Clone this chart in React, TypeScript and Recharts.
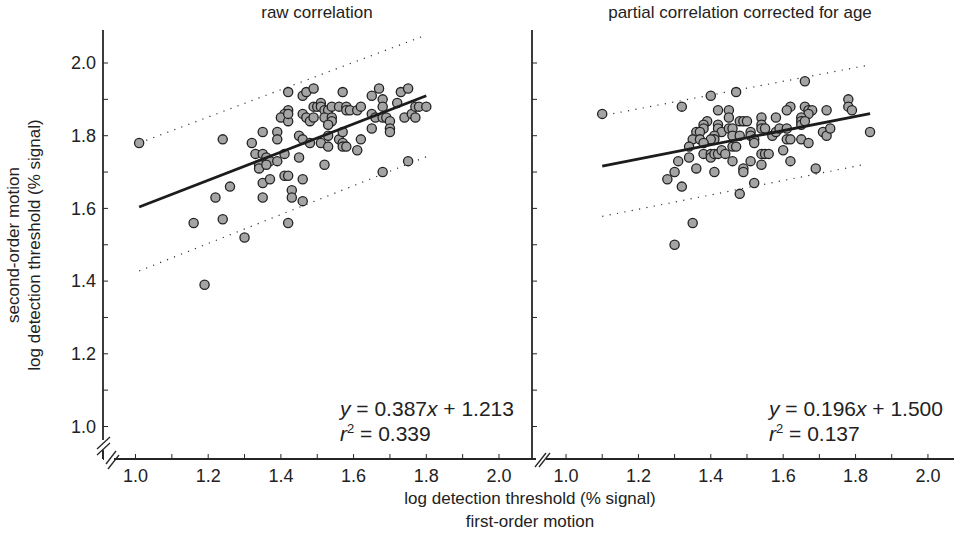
import React from 'react';
import { ScatterChart, Scatter, XAxis, YAxis } from 'recharts';

// values, [first-order, second-order]
const rawPoints: [number, number][] = [
  [1.01, 1.78], [1.24, 1.79], [1.32, 1.78], [1.35, 1.81], [1.39, 1.81], [1.39, 1.79],
  [1.33, 1.75], [1.35, 1.75], [1.36, 1.74], [1.37, 1.73], [1.34, 1.72], [1.34, 1.71],
  [1.36, 1.72], [1.39, 1.73], [1.41, 1.75], [1.45, 1.74], [1.42, 1.92], [1.46, 1.91],
  [1.47, 1.92], [1.49, 1.93], [1.57, 1.92], [1.42, 1.87], [1.41, 1.86], [1.40, 1.85],
  [1.42, 1.84], [1.42, 1.86], [1.46, 1.86], [1.47, 1.85], [1.48, 1.84], [1.49, 1.85],
  [1.49, 1.88], [1.50, 1.88], [1.51, 1.89], [1.51, 1.88], [1.52, 1.87], [1.53, 1.87],
  [1.52, 1.85], [1.54, 1.88], [1.54, 1.85], [1.54, 1.84], [1.53, 1.83], [1.56, 1.88],
  [1.58, 1.88], [1.58, 1.87], [1.59, 1.87], [1.61, 1.87], [1.62, 1.88], [1.45, 1.80],
  [1.46, 1.79], [1.48, 1.78], [1.51, 1.78], [1.53, 1.77], [1.53, 1.80], [1.56, 1.79],
  [1.57, 1.78], [1.57, 1.77], [1.58, 1.77], [1.57, 1.81], [1.62, 1.79], [1.61, 1.76],
  [1.52, 1.72], [1.35, 1.67], [1.37, 1.68], [1.26, 1.66], [1.41, 1.69], [1.42, 1.69],
  [1.46, 1.68], [1.43, 1.65], [1.43, 1.63], [1.35, 1.63], [1.46, 1.62], [1.24, 1.57],
  [1.42, 1.56], [1.67, 1.93], [1.65, 1.91], [1.73, 1.92], [1.75, 1.93], [1.68, 1.90],
  [1.68, 1.88], [1.72, 1.89], [1.65, 1.86], [1.66, 1.85], [1.68, 1.85], [1.69, 1.85],
  [1.70, 1.84], [1.70, 1.82], [1.70, 1.81], [1.65, 1.82], [1.74, 1.85], [1.76, 1.86],
  [1.77, 1.85], [1.77, 1.88], [1.78, 1.88], [1.80, 1.88], [1.68, 1.70], [1.75, 1.73],
  [1.22, 1.63], [1.16, 1.56], [1.19, 1.39], [1.30, 1.52],
];

const partialPoints: [number, number][] = [
  [1.10, 1.86], [1.32, 1.88], [1.40, 1.91], [1.47, 1.92], [1.42, 1.87], [1.45, 1.87],
  [1.45, 1.85], [1.39, 1.84], [1.38, 1.83], [1.38, 1.82], [1.36, 1.81], [1.37, 1.81],
  [1.35, 1.79], [1.37, 1.79], [1.34, 1.77], [1.34, 1.74], [1.42, 1.83], [1.42, 1.82],
  [1.43, 1.81], [1.41, 1.80], [1.41, 1.79], [1.40, 1.79], [1.38, 1.78], [1.45, 1.82],
  [1.46, 1.82], [1.46, 1.80], [1.48, 1.84], [1.49, 1.84], [1.50, 1.84], [1.48, 1.80],
  [1.51, 1.81], [1.46, 1.77], [1.47, 1.77], [1.38, 1.75], [1.40, 1.75], [1.40, 1.74],
  [1.41, 1.75], [1.42, 1.75], [1.43, 1.76], [1.44, 1.75], [1.46, 1.73], [1.36, 1.71],
  [1.41, 1.70], [1.49, 1.71], [1.49, 1.70], [1.51, 1.73], [1.31, 1.73], [1.30, 1.70],
  [1.28, 1.68], [1.32, 1.66], [1.48, 1.64], [1.35, 1.56], [1.30, 1.50], [1.66, 1.95],
  [1.78, 1.90], [1.78, 1.88], [1.79, 1.87], [1.62, 1.88], [1.61, 1.87], [1.66, 1.88],
  [1.67, 1.87], [1.68, 1.87], [1.67, 1.86], [1.72, 1.87], [1.58, 1.85], [1.65, 1.85],
  [1.65, 1.84], [1.65, 1.83], [1.66, 1.84], [1.54, 1.85], [1.54, 1.83], [1.54, 1.82],
  [1.55, 1.82], [1.51, 1.80], [1.52, 1.79], [1.52, 1.78], [1.57, 1.80], [1.58, 1.81],
  [1.59, 1.82], [1.61, 1.82], [1.61, 1.79], [1.62, 1.79], [1.65, 1.79], [1.67, 1.78],
  [1.71, 1.81], [1.72, 1.80], [1.73, 1.82], [1.84, 1.81], [1.60, 1.76], [1.54, 1.75],
  [1.55, 1.75], [1.56, 1.75], [1.54, 1.72], [1.62, 1.73], [1.69, 1.71], [1.52, 1.67],
];

// regression lines and prediction bands (end points)
const rawFit: [number, number][] = [[1.01, 1.604], [1.80, 1.910]];
const rawUpper: [number, number][] = [[1.01, 1.78], [1.80, 2.077]];
const rawLower: [number, number][] = [[1.01, 1.428], [1.80, 1.742]];
const partialFit: [number, number][] = [[1.10, 1.716], [1.84, 1.861]];
const partialUpper: [number, number][] = [[1.11, 1.857], [1.83, 1.993]];
const partialLower: [number, number][] = [[1.10, 1.578], [1.83, 1.722]];

const ticks = [1.0, 1.1, 1.2, 1.3, 1.4, 1.5, 1.6, 1.7, 1.8, 1.9, 2.0];
const yDomain: [number, number] = [0.9106, 2.0908];
const rawXDomain: [number, number] = [0.9106, 2.0908];
const partialXDomain: [number, number] = [0.906, 2.072];

const toXY = (arr: [number, number][]) => arr.map(([x, y]) => ({ x, y }));
const major = (v: number) => (Math.round(v * 10) % 2 === 0 ? v.toFixed(1) : '');
const blank = () => '';

const INK = '#262626';
const tickStyle = { fill: '#222', fontSize: 18 };

const Dot = (props: any) => (
  <circle cx={props.cx} cy={props.cy} r={4.6} fill="#a4a4a4" stroke="#222" strokeWidth={1.3} />
);
const NoDot = () => <g />;

function Panel({ points, fit, upper, lower, xDomain, width, margin, showYLabels }: any) {
  return (
    <ScatterChart width={width} height={545} margin={margin}>
      <XAxis xAxisId={0} type="number" dataKey="x" domain={xDomain} allowDataOverflow ticks={ticks}
        interval={0} tickFormatter={major} tickSize={-5} tickMargin={15} tick={tickStyle}
        tickLine={{ stroke: INK }} axisLine={{ stroke: INK, strokeWidth: 1.8 }} height={30} />
      <XAxis xAxisId="top" orientation="top" type="number" dataKey="x" domain={xDomain} allowDataOverflow
        ticks={ticks} interval={0} tickFormatter={blank} tickSize={-5} height={0}
        tickLine={{ stroke: INK }} axisLine={{ stroke: INK, strokeWidth: 1.8 }} />
      <YAxis yAxisId={0} type="number" dataKey="y" domain={yDomain} allowDataOverflow ticks={ticks}
        interval={0} tickFormatter={showYLabels ? major : blank} tickSize={-5} tickMargin={12}
        tick={tickStyle} width={60} tickLine={{ stroke: INK }} axisLine={{ stroke: INK, strokeWidth: 1.8 }} />
      {showYLabels && (
        <YAxis yAxisId="r" orientation="right" type="number" dataKey="y" domain={yDomain} allowDataOverflow
          ticks={ticks} interval={0} tickFormatter={blank} tickSize={-5} width={0}
          tickLine={{ stroke: INK }} axisLine={false} />
      )}
      <Scatter data={toXY(upper)} shape={NoDot} isAnimationActive={false}
        line={{ stroke: '#333', strokeWidth: 1.2, strokeDasharray: '1.2 6.3' }} />
      <Scatter data={toXY(lower)} shape={NoDot} isAnimationActive={false}
        line={{ stroke: '#333', strokeWidth: 1.2, strokeDasharray: '1.2 6.3' }} />
      <Scatter data={toXY(points)} shape={Dot} isAnimationActive={false} />
      <Scatter data={toXY(fit)} shape={NoDot} isAnimationActive={false}
        line={{ stroke: '#1c1c1c', strokeWidth: 2.8 }} />
    </ScatterChart>
  );
}

export default function App() {
  const txt = { fill: '#222', fontSize: 17 };
  const eq = { fill: '#222', fontSize: 21 };
  return (
    <div style={{ position: 'absolute', left: 0, top: 0, width: 954, height: 545, overflow: 'hidden',
      background: '#fff', fontFamily: '"Liberation Sans", Arial, sans-serif' }}>
      <div style={{ position: 'absolute', left: 0, top: 0 }}>
        <Panel points={rawPoints} fit={rawFit} upper={rawUpper} lower={rawLower} xDomain={rawXDomain}
          width={540} margin={{ top: 30, right: 8, bottom: 56, left: 43 }} showYLabels />
      </div>
      <div style={{ position: 'absolute', left: 472, top: 0 }}>
        <Panel points={partialPoints} fit={partialFit} upper={partialUpper} lower={partialLower}
          xDomain={partialXDomain} width={482} margin={{ top: 30, right: 0, bottom: 56, left: 0 }} />
      </div>
      <svg width={954} height={545} style={{ position: 'absolute', left: 0, top: 0, pointerEvents: 'none' }}>
        <text x={317} y={18} textAnchor="middle" {...txt}>raw correlation</text>
        <text x={740} y={18} textAnchor="middle" {...txt}>partial correlation corrected for age</text>
        <text x={19} y={245} textAnchor="middle" transform="rotate(-90 19 245)" {...txt}>second-order motion</text>
        <text x={40} y={245} textAnchor="middle" transform="rotate(-90 40 245)" {...txt}>log detection threshold (% signal)</text>
        <text x={530} y={504} textAnchor="middle" {...txt}>log detection threshold (% signal)</text>
        <text x={530} y={527} textAnchor="middle" {...txt}>first-order motion</text>

        <text x={340} y={416} {...eq}><tspan fontStyle="italic">y</tspan> = 0.387<tspan fontStyle="italic">x</tspan> + 1.213</text>
        <text x={340} y={441} {...eq}><tspan fontStyle="italic">r</tspan><tspan fontSize={13} dy={-8}>2</tspan><tspan dy={8}> = 0.339</tspan></text>
        <text x={769} y={416} {...eq}><tspan fontStyle="italic">y</tspan> = 0.196<tspan fontStyle="italic">x</tspan> + 1.500</text>
        <text x={769} y={441} {...eq}><tspan fontStyle="italic">r</tspan><tspan fontSize={13} dy={-8}>2</tspan><tspan dy={8}> = 0.137</tspan></text>

        {/* axis breaks */}
        <rect x={99} y={440} width={8} height={10} fill="#fff" />
        <rect x={104} y={455} width={10} height={8} fill="#fff" />
        <line x1={97} y1={449} x2={110} y2={437} stroke={INK} strokeWidth={1.3} />
        <line x1={97} y1={455} x2={110} y2={443} stroke={INK} strokeWidth={1.3} />
        <line x1={103} y1={451} x2={103} y2={459} stroke={INK} strokeWidth={1.8} />
        <line x1={106} y1={464} x2={116} y2={451} stroke={INK} strokeWidth={1.3} />
        <line x1={108} y1={469} x2={119} y2={455} stroke={INK} strokeWidth={1.3} />
        <rect x={536} y={455} width={10} height={8} fill="#fff" />
        <line x1={535} y1={467} x2={546} y2={453} stroke={INK} strokeWidth={1.3} />
        <line x1={539} y1={467} x2={550} y2={453} stroke={INK} strokeWidth={1.3} />
      </svg>
    </div>
  );
}
